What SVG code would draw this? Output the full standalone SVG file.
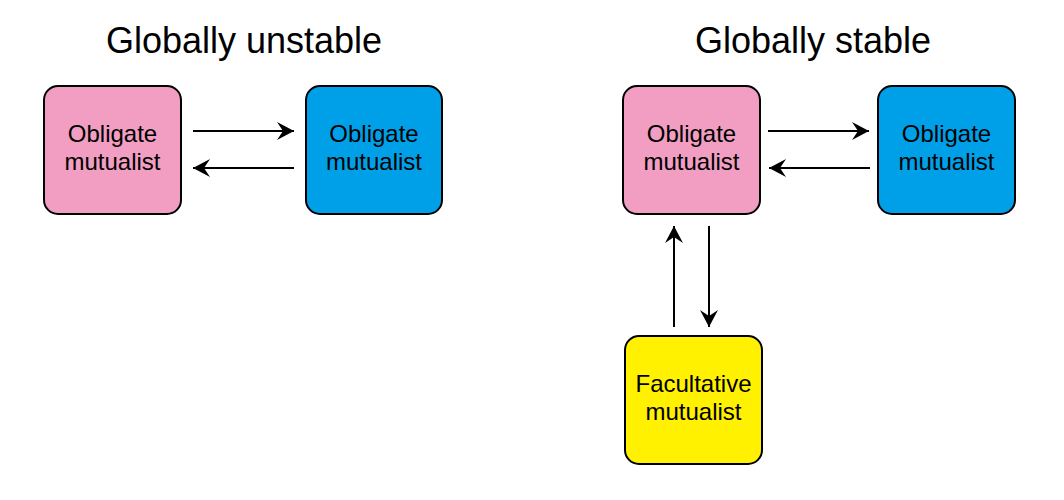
<svg xmlns="http://www.w3.org/2000/svg" width="1064" height="500" viewBox="0 0 1064 500">
<defs>
<marker id="ah" markerWidth="18" markerHeight="19" refX="17" refY="9" orient="auto" markerUnits="userSpaceOnUse">
<path d="M0,0 L17,9 L0,18 L6,9 Z" fill="#000"/>
</marker>
<style>
.box{stroke:#000;stroke-width:2}
.t{font-family:"Liberation Sans",Arial,sans-serif;font-size:24px;text-anchor:middle;fill:#000}
.h{font-family:"Liberation Sans",Arial,sans-serif;font-size:36px;text-anchor:middle;fill:#000}
.c{stroke:#000;stroke-width:2;fill:none;marker-end:url(#ah)}
</style>
</defs>
<rect width="1064" height="500" fill="#fff"/>
<text class="h" x="244" y="53">Globally unstable</text>
<text class="h" x="813" y="53">Globally stable</text>
<g id="n1"><rect class="box" x="44" y="86" width="137" height="128" rx="14" fill="#F19EC2"/><text class="t" x="112.5" y="142">Obligate</text><text class="t" x="112.5" y="170">mutualist</text></g>
<g id="n2"><rect class="box" x="306" y="86" width="136" height="128" rx="14" fill="#00A0E9"/><text class="t" x="374" y="142">Obligate</text><text class="t" x="374" y="170">mutualist</text></g>
<g id="n3"><rect class="box" x="623" y="86" width="137" height="128" rx="14" fill="#F19EC2"/><text class="t" x="691.5" y="142">Obligate</text><text class="t" x="691.5" y="170">mutualist</text></g>
<g id="n4"><rect class="box" x="878" y="86" width="137" height="128" rx="14" fill="#00A0E9"/><text class="t" x="946.5" y="142">Obligate</text><text class="t" x="946.5" y="170">mutualist</text></g>
<g id="n5"><rect class="box" x="625" y="336" width="137" height="128" rx="14" fill="#FFF100"/><text class="t" x="693.5" y="392">Facultative</text><text class="t" x="693.5" y="420">mutualist</text></g>
<g id="connectors">
<line class="c" x1="193" y1="131" x2="294" y2="131"/>
<line class="c" x1="294" y1="168" x2="193" y2="168"/>
<line class="c" x1="768" y1="131" x2="869" y2="131"/>
<line class="c" x1="870" y1="168" x2="769" y2="168"/>
<line class="c" x1="674" y1="327" x2="674" y2="226"/>
<line class="c" x1="709" y1="226" x2="709" y2="327"/>
</g>
</svg>
